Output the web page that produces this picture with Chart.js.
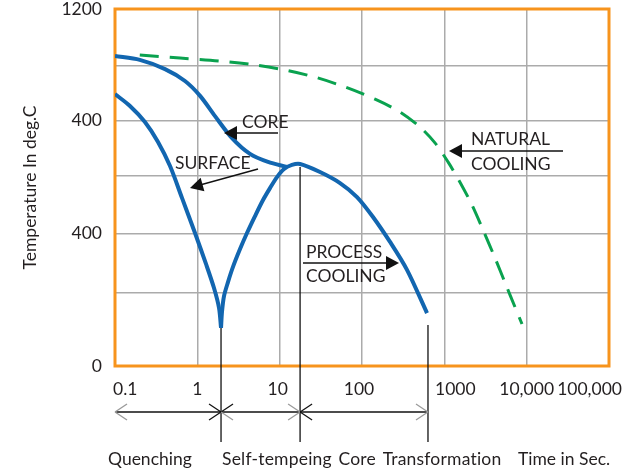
<!DOCTYPE html>
<html>
<head>
<meta charset="utf-8">
<script src="https://cdn.jsdelivr.net/npm/chart.js@4.4.0/dist/chart.umd.min.js"></script>
<style>
  html, body { margin: 0; padding: 0; background: #fff; }
  canvas { display: block; }
</style>
</head>
<body>
<canvas id="myChart" width="622" height="470"></canvas>
<script>
// time axis (seconds, log) and tick labels
const xTickValues = [0.1, 1, 10, 100, 1000, 10000, 100000];
const xTickLabels = ["0.1", "1", "10", "100", "1000", "10,000", "100,000"];

// temperature axis: grid positions and the (odd) labels printed on them
const yTickValues = [0, 245, 445, 640, 825, 1010, 1200];
const yTickLabels = ["0", "", "400", "", "400", "", "1200"];

// core cooling
const coreTime = [0.1, 0.2, 0.405, 0.708, 1.08, 1.64, 2.64, 4.36, 7.22, 12.3];
const coreTemp = [1042, 1029, 998, 958, 908, 840, 766, 713, 686, 669];

// surface quench down to the cusp
const surfaceTime = [0.1, 0.152, 0.231, 0.333, 0.466, 0.651, 0.937, 1.274, 1.594, 1.834, 1.94];
const surfaceTemp = [914, 874, 820, 753, 672, 565, 447, 343, 262, 195, 128];

// reheat (self-tempering) then process cooling
const processTime = [1.94, 1.993, 2.108, 2.357, 2.71, 3.3, 4.01, 5.02, 6.28, 7.63, 9.28, 11.3, 14.1, 17.7, 30.9, 54.1, 87, 136, 219, 352, 616];
const processTemp = [128, 182, 235, 282, 333, 393, 447, 504, 558, 598, 635, 662, 676, 679, 652, 615, 568, 501, 417, 323, 178];

// natural cooling
const naturalTime = [0.2, 0.616, 1.885, 5.02, 11.6, 26.9, 62.1, 144, 289, 506, 770, 1108, 1550, 2168, 3032, 4126, 5610, 7217, 8776];
const naturalTemp = [1045, 1035, 1025, 1012, 995, 971, 938, 897, 854, 803, 750, 686, 618, 541, 450, 363, 272, 198, 141];

// phase boundaries along the time axis and where their markers start
const phaseTime = [1.94, 17.7, 633];
const phaseTopTemp = [128, 669, 138];
const phaseNames = ["Quenching", "Self-tempeing Core Transformation", "Time in Sec."];

const ORANGE = "#f7941d";
const BLUE = "#1266b0";
const GREEN = "#0aa24f";
const GRID = "#ababab";
const INK = "#231f20";
const FONT = "Lato, 'Open Sans', sans-serif";

function pts(xs, ys) {
  return xs.map((x, i) => ({ x: x, y: ys[i] }));
}

function blueLine(xs, ys) {
  return {
    data: pts(xs, ys),
    borderColor: BLUE,
    borderWidth: 4,
    pointRadius: 0,
    tension: 0.3,
    fill: false
  };
}

const frame = {
  id: "frame",
  beforeDatasetsDraw(chart) {
    const a = chart.chartArea;
    const ctx = chart.ctx;
    ctx.save();
    ctx.strokeStyle = ORANGE;
    ctx.lineWidth = 3;
    ctx.strokeRect(a.left, a.top, a.right - a.left, a.bottom - a.top);
    ctx.restore();
  }
};

function text(ctx, s, x, y, align) {
  ctx.textAlign = align || "left";
  ctx.fillText(s, x, y);
}

function line(ctx, x1, y1, x2, y2, color, w) {
  ctx.strokeStyle = color;
  ctx.lineWidth = w || 1.3;
  ctx.beginPath();
  ctx.moveTo(x1, y1);
  ctx.lineTo(x2, y2);
  ctx.stroke();
}

// filled arrow head, tip at (x, y), pointing along angle ang
function head(ctx, x, y, ang) {
  const L = 13, W = 7;
  const c = Math.cos(ang), s = Math.sin(ang);
  ctx.fillStyle = "#111";
  ctx.beginPath();
  ctx.moveTo(x, y);
  ctx.lineTo(x - L * c - W * s, y - L * s + W * c);
  ctx.lineTo(x - L * c + W * s, y - L * s - W * c);
  ctx.closePath();
  ctx.fill();
}

const notes = {
  id: "notes",
  afterDraw(chart) {
    const ctx = chart.ctx;
    const xs = chart.scales.x;
    const ys = chart.scales.y;
    const a = chart.chartArea;
    ctx.save();
    ctx.fillStyle = INK;
    ctx.textBaseline = "middle";
    ctx.font = "17.5px " + FONT;

    // time tick labels (nudged like the printed figure)
    const nudge = [0, 0, -2, -3, 11, 0, 0];
    const ly = a.bottom + 23;
    xTickValues.forEach((v, i) => {
      const px = xs.getPixelForValue(v);
      if (i === 0) text(ctx, xTickLabels[i], px - 2, ly, "left");
      else if (i === xTickValues.length - 1) text(ctx, xTickLabels[i], chart.width, ly, "right");
      else text(ctx, xTickLabels[i], px + nudge[i], ly, "center");
    });

    // curve labels
    ctx.fillStyle = INK;
    text(ctx, "CORE", 242, 122);
    line(ctx, 278, 133, 234, 133, "#111", 1.3);
    head(ctx, 224, 133, Math.PI);

    ctx.fillStyle = INK;
    text(ctx, "SURFACE", 175, 163);
    const sa = Math.atan2(188 - 169, 190 - 258);
    line(ctx, 258, 169, 200, 185, "#111", 1.3);
    head(ctx, 190, 188, sa);

    ctx.fillStyle = INK;
    text(ctx, "NATURAL", 471, 139);
    text(ctx, "COOLING", 471, 164);
    line(ctx, 563, 151, 460, 151, "#111", 1.3);
    head(ctx, 449, 151, Math.PI);

    ctx.fillStyle = INK;
    text(ctx, "PROCESS", 306, 252);
    text(ctx, "COOLING", 306, 276);
    line(ctx, 303, 263, 388, 263, "#111", 1.3);
    head(ctx, 399, 263, 0);

    // phase markers below the plot
    const ay = 412, vBottom = 442;
    const x0 = a.left;
    const px = phaseTime.map(t => xs.getPixelForValue(t));
    line(ctx, x0, ay, px[px.length - 1], ay, "#111", 1.3);
    px.forEach((p, i) => {
      line(ctx, p, ys.getPixelForValue(phaseTopTemp[i]), p, vBottom, "#111", 1.3);
    });
    const arm = (x, y, dx, dy, c) => line(ctx, x, y, x + dx, y + dy, c, 1.3);
    const G = "#9a9a9a", K = "#111";
    arm(x0, ay, 12, -8, G); arm(x0, ay, 12, 8, G);
    arm(px[0], ay, -12, -8, K); arm(px[0], ay, -12, 8, K);
    arm(px[0], ay, 12, -8, K); arm(px[0], ay, 12, 8, G);
    arm(px[1], ay, -12, -8, G); arm(px[1], ay, -12, 8, G);
    arm(px[1], ay, 12, -8, K); arm(px[1], ay, 12, 8, K);
    arm(px[2], ay, -12, -8, G); arm(px[2], ay, -12, 8, G);

    ctx.fillStyle = INK;
    text(ctx, phaseNames[0], 108, 459);
    ctx.letterSpacing = "0.2px";
    ctx.wordSpacing = "2px";
    text(ctx, phaseNames[1], px[0] + 1, 459);
    ctx.letterSpacing = "0px";
    ctx.wordSpacing = "0px";
    text(ctx, phaseNames[2], 518, 459);
    ctx.restore();
  }
};

const ctx = document.getElementById("myChart").getContext("2d");

new Chart(ctx, {
  type: "line",
  data: {
    datasets: [
      {
        data: pts(naturalTime, naturalTemp),
        borderColor: GREEN,
        borderWidth: 3,
        borderDash: [19, 11],
        pointRadius: 0,
        tension: 0.3,
        fill: false
      },
      blueLine(coreTime, coreTemp),
      blueLine(surfaceTime, surfaceTemp),
      blueLine(processTime, processTemp)
    ]
  },
  options: {
    responsive: false,
    animation: false,
    devicePixelRatio: 1,
    layout: { padding: { top: 9, right: 13, left: 0, bottom: 0 } },
    plugins: { legend: { display: false }, tooltip: { enabled: false } },
    scales: {
      x: {
        type: "logarithmic",
        min: 0.1,
        max: 100000,
        afterBuildTicks: s => { s.ticks = xTickValues.map(v => ({ value: v })); },
        ticks: { display: false },
        grid: { color: GRID, lineWidth: 1.5, drawTicks: false },
        border: { display: false },
        afterFit: s => { s.height = 104; s.paddingLeft = 0; s.paddingRight = 0; }
      },
      y: {
        type: "linear",
        min: 0,
        max: 1200,
        afterBuildTicks: s => { s.ticks = yTickValues.map(v => ({ value: v })); },
        ticks: {
          padding: 13,
          color: INK,
          font: { family: FONT, size: 17.5 },
          callback: (v, i) => yTickLabels[i]
        },
        grid: { color: GRID, lineWidth: 1.5, drawTicks: false },
        border: { display: false },
        title: {
          display: true,
          text: "Temperature In deg.C",
          color: INK,
          font: { family: FONT, size: 17.5 },
          padding: { top: 20, bottom: 0 }
        },
        afterFit: s => { s.width = 115; s.paddingTop = 0; s.paddingBottom = 0; }
      }
    }
  },
  plugins: [frame, notes]
});
</script>
</body>
</html>
